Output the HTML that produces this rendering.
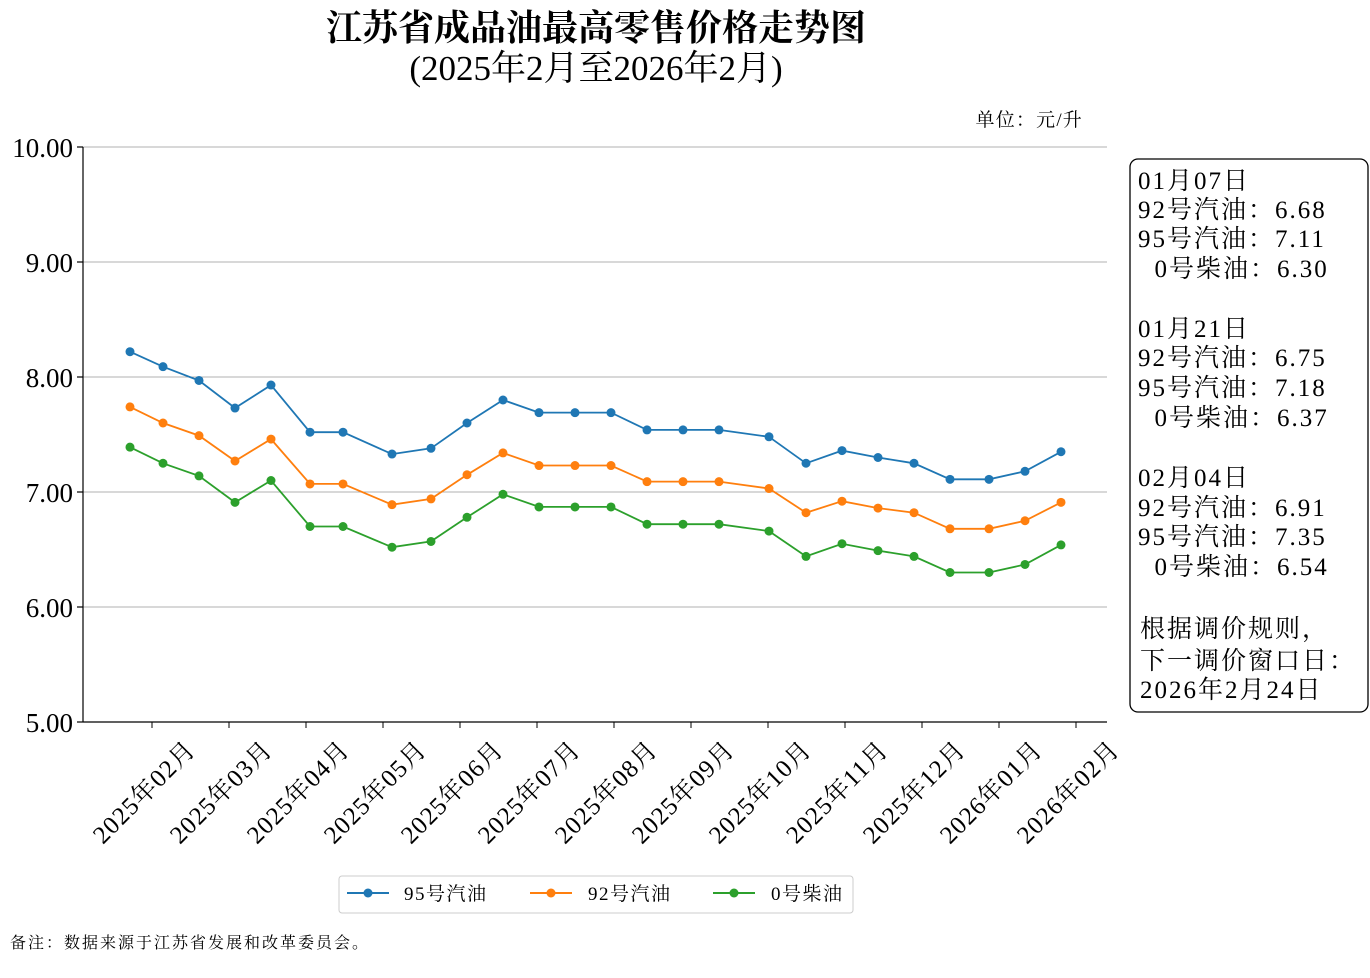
<!DOCTYPE html>
<html><head><meta charset="utf-8"><style>
body{margin:0;background:#fff}
svg text{font-family:"Liberation Serif","Noto Serif CJK SC",serif;fill:#000}
</style></head><body>
<svg id="s" width="1370" height="973" xmlns="http://www.w3.org/2000/svg">
<text x="596" y="40" text-anchor="middle" font-size="36" font-weight="bold">江苏省成品油最高零售价格走势图</text>
<text x="596" y="80" text-anchor="middle" font-size="35">(2025年2月至2026年2月)</text>
<text x="1083" y="126" text-anchor="end" font-size="19" letter-spacing="1.2">单位：元/升</text>
<g stroke="#b0b0b0" stroke-width="1">
<line x1="83" x2="1107" y1="147" y2="147"/><line x1="83" x2="1107" y1="262" y2="262"/>
<line x1="83" x2="1107" y1="377" y2="377"/><line x1="83" x2="1107" y1="492" y2="492"/>
<line x1="83" x2="1107" y1="607" y2="607"/>
</g>
<g stroke="#000" stroke-width="1.2">
<line x1="83" x2="83" y1="147" y2="722"/><line x1="83" x2="1107" y1="722" y2="722"/>
<line x1="77" x2="83" y1="147" y2="147"/><line x1="77" x2="83" y1="262" y2="262"/><line x1="77" x2="83" y1="377" y2="377"/><line x1="77" x2="83" y1="492" y2="492"/><line x1="77" x2="83" y1="607" y2="607"/><line x1="77" x2="83" y1="722" y2="722"/>
</g>
<g font-size="27" text-anchor="end">
<text x="73" y="157">10.00</text><text x="73" y="272">9.00</text><text x="73" y="387">8.00</text><text x="73" y="502">7.00</text><text x="73" y="617">6.00</text><text x="73" y="732">5.00</text>
</g>
<g id="xt" font-size="25" text-anchor="middle" letter-spacing="1">
<text transform="translate(150,798) rotate(-45)">2025年02月</text>
<text transform="translate(227,798) rotate(-45)">2025年03月</text>
<text transform="translate(304,798) rotate(-45)">2025年04月</text>
<text transform="translate(381,798) rotate(-45)">2025年05月</text>
<text transform="translate(458,798) rotate(-45)">2025年06月</text>
<text transform="translate(535,798) rotate(-45)">2025年07月</text>
<text transform="translate(612,798) rotate(-45)">2025年08月</text>
<text transform="translate(689,798) rotate(-45)">2025年09月</text>
<text transform="translate(766,798) rotate(-45)">2025年10月</text>
<text transform="translate(843,798) rotate(-45)">2025年11月</text>
<text transform="translate(920,798) rotate(-45)">2025年12月</text>
<text transform="translate(997,798) rotate(-45)">2026年01月</text>
<text transform="translate(1074,798) rotate(-45)">2026年02月</text>
</g>
<g id="ser"></g>
<rect x="1130" y="159" width="238" height="553" rx="8" fill="#fff" stroke="#000" stroke-width="1.3"/>
<g font-size="25" letter-spacing="2">
<text x="1138" y="189">01月07日</text>
<text x="1138" y="218">92号汽油：6.68</text>
<text x="1138" y="247">95号汽油：7.11</text>
<text x="1138" y="277">&#160;&#160;0号柴油：6.30</text>
<text x="1138" y="337">01月21日</text>
<text x="1138" y="366">92号汽油：6.75</text>
<text x="1138" y="396">95号汽油：7.18</text>
<text x="1138" y="426">&#160;&#160;0号柴油：6.37</text>
<text x="1138" y="486">02月04日</text>
<text x="1138" y="516">92号汽油：6.91</text>
<text x="1138" y="545">95号汽油：7.35</text>
<text x="1138" y="575">&#160;&#160;0号柴油：6.54</text>
<text x="1140" y="637">根据调价规则，</text>
<text x="1140" y="669">下一调价窗口日：</text>
<text x="1140" y="698">2026年2月24日</text>
</g>
<rect x="339" y="876" width="514" height="37" rx="3" fill="#fff" stroke="#ccc"/>
<line x1="347" x2="389" y1="893" y2="893" stroke="#1f77b4" stroke-width="2"/><circle cx="368" cy="893" r="4.5" fill="#1f77b4"/>
<g font-size="19" letter-spacing="1.5">
<text x="404" y="900">95号汽油</text>
<text x="588" y="900">92号汽油</text>
<text x="771" y="900">0号柴油</text>
</g>
<line x1="530" x2="572" y1="893" y2="893" stroke="#ff7f0e" stroke-width="2"/><circle cx="551" cy="893" r="4.5" fill="#ff7f0e"/>
<line x1="713" x2="755" y1="893" y2="893" stroke="#2ca02c" stroke-width="2"/><circle cx="734" cy="893" r="4.5" fill="#2ca02c"/>
<text x="10" y="948" font-size="16" letter-spacing="2">备注：数据来源于江苏省发展和改革委员会。</text>
<g stroke="#000"><line x1="152" x2="152" y1="722" y2="728"/><line x1="229" x2="229" y1="722" y2="728"/><line x1="306" x2="306" y1="722" y2="728"/><line x1="383" x2="383" y1="722" y2="728"/><line x1="460" x2="460" y1="722" y2="728"/><line x1="537" x2="537" y1="722" y2="728"/><line x1="614" x2="614" y1="722" y2="728"/><line x1="691" x2="691" y1="722" y2="728"/><line x1="768" x2="768" y1="722" y2="728"/><line x1="845" x2="845" y1="722" y2="728"/><line x1="922" x2="922" y1="722" y2="728"/><line x1="999" x2="999" y1="722" y2="728"/><line x1="1076" x2="1076" y1="722" y2="728"/></g>
</svg>
<script>
var xs=[130,163,199,235,271,310,343,392,431,467,503,539,575,611,647,683,719,769,806,842,878,914,950,989,1025,1061];
var d=[["#1f77b4",[8.22,8.09,7.97,7.73,7.93,7.52,7.52,7.33,7.38,7.60,7.80,7.69,7.69,7.69,7.54,7.54,7.54,7.48,7.25,7.36,7.30,7.25,7.11,7.11,7.18,7.35]],
["#ff7f0e",[7.74,7.60,7.49,7.27,7.46,7.07,7.07,6.89,6.94,7.15,7.34,7.23,7.23,7.23,7.09,7.09,7.09,7.03,6.82,6.92,6.86,6.82,6.68,6.68,6.75,6.91]],
["#2ca02c",[7.39,7.25,7.14,6.91,7.10,6.70,6.70,6.52,6.57,6.78,6.98,6.87,6.87,6.87,6.72,6.72,6.72,6.66,6.44,6.55,6.49,6.44,6.30,6.30,6.37,6.54]]];
var h="";d.forEach(function(s){var p=s[1].map(function(v,i){return xs[i]+","+(722-(v-5)*115).toFixed(1)}).join(" ");
h+='<polyline points="'+p+'" fill="none" stroke="'+s[0]+'" stroke-width="1.8"/>';
s[1].forEach(function(v,i){h+='<circle cx="'+xs[i]+'" cy="'+(722-(v-5)*115)+'" r="4.5" fill="'+s[0]+'"/>'});});
document.getElementById("ser").innerHTML=h;
</script>
</body></html>
